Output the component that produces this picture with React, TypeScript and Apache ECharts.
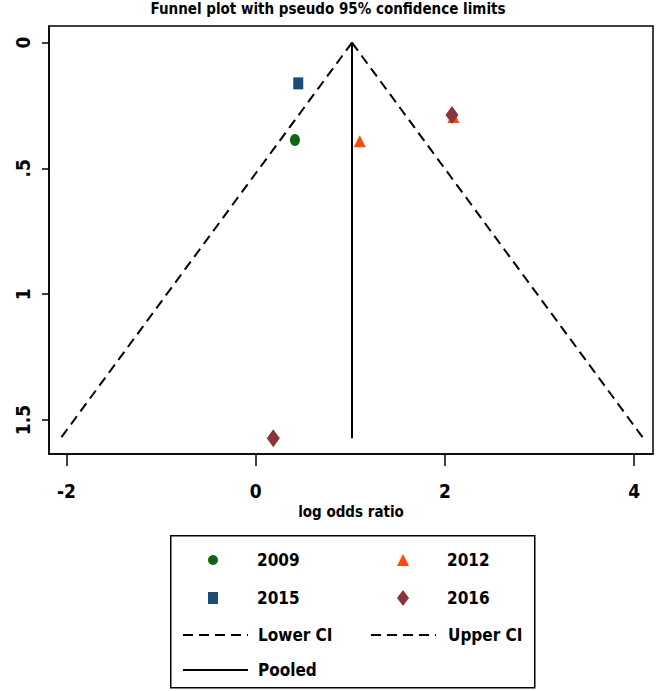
import React, { useEffect, useRef } from "react";
import * as echarts from "echarts";

// ---- data ----
const xTicks = [-2, 0, 2, 4];
const yTicks = [0, 0.5, 1, 1.5];
const s2009: number[][] = [[0.415, 0.387]];
const s2012: number[][] = [[1.10, 0.392], [2.09, 0.296]];
const s2015: number[][] = [[0.45, 0.162]];
const s2016: number[][] = [[2.075, 0.288], [0.186, 1.572]];
const lowerCI: number[][] = [[1.018, 0], [-2.061, 1.572]];
const upperCI: number[][] = [[1.018, 0], [4.097, 1.572]];
const pooled: number[][] = [[1.018, 0], [1.018, 1.572]];

const FONT = '"Liberation Sans Narrow", "DejaVu Sans Condensed", "Arial Narrow", sans-serif';

export default function App() {
  const ref = useRef<HTMLDivElement>(null);
  useEffect(() => {
    document.body.style.margin = "0";
    const chart = echarts.init(ref.current!, null, { renderer: "svg" });
    const dashed = { color: "#000", width: 2, type: [10, 6] as any };
    const noSym = { color: "rgba(0,0,0,0)", opacity: 0, borderWidth: 0 };
    // one legend block per entry: [name, iconLeft, top, iconW, iconH, textX, isLine]
    const legendSpec: [string, number, number, number, number, number, boolean][] = [
      ["2009", 203, 545, 10, 12, 252, false],
      ["2012", 392, 545, 12, 12, 442, false],
      ["2015", 203, 583, 10, 12, 252, false],
      ["2016", 392, 583, 12, 16, 442, false],
      ["Lower CI", 177, 620, 65, 12, 252, true],
      ["Upper CI", 365, 620, 65, 12, 442, true],
      ["Pooled", 177, 655, 65, 12, 252, true],
    ];
    const legends = legendSpec.map(([name, left, top, w, h, tx, isLine]) => ({
      orient: "vertical", left, top, itemWidth: w, itemHeight: h,
      data: [name], selectedMode: false,
      ...(isLine ? { itemStyle: noSym } : {}),
      textStyle: {
        fontFamily: FONT, fontSize: 17, fontWeight: "bold", color: "#000",
        lineHeight: 20, padding: [0, 0, 0, tx - left - w - 5],
      },
    }));
    chart.setOption({
      animation: false,
      backgroundColor: "#fff",
      textStyle: { fontFamily: FONT },
      title: {
        text: "Funnel plot with pseudo 95% confidence limits",
        left: "center",
        top: 1,
        padding: 0,
        textStyle: { fontFamily: FONT, fontSize: 15, fontWeight: "bold", color: "#000" },
      },
      grid: {
        left: 49, right: 3, top: 26, bottom: 237,
        show: true, borderColor: "#000", borderWidth: 1.5, backgroundColor: "#fff",
      },
      xAxis: {
        type: "value",
        min: -2.185, max: 4.2,
        splitLine: { show: false },
        axisLine: { show: true, onZero: false, lineStyle: { color: "#000", width: 1.5 } },
        axisTick: { show: true, length: 12, customValues: xTicks, lineStyle: { color: "#000", width: 1.5 } },
        axisLabel: {
          customValues: xTicks, margin: 27, color: "#000",
          fontFamily: FONT, fontSize: 19, fontWeight: "bold",
        },
        name: "log odds ratio",
        nameLocation: "middle",
        nameGap: 43,
        nameTextStyle: { fontFamily: FONT, fontSize: 15, fontWeight: "bold", color: "#000" },
      },
      yAxis: {
        type: "value",
        inverse: true,
        min: -0.066, max: 1.635,
        splitLine: { show: false },
        axisLine: { show: true, onZero: false, lineStyle: { color: "#000", width: 1.5 } },
        axisTick: { show: true, length: 7, customValues: yTicks, lineStyle: { color: "#000", width: 1.5 } },
        axisLabel: {
          customValues: yTicks, rotate: 90, margin: 17, color: "#000",
          fontFamily: FONT, fontSize: 19, fontWeight: "bold",
          formatter: (v: number) => (v === 0 ? "0" : String(v).replace(/^0\./, ".")),
        },
      },
      legend: legends,
      graphic: [
        {
          type: "rect", left: 170, top: 535, z: -1,
          shape: { width: 364, height: 152 },
          style: { fill: "#fff", stroke: "#000", lineWidth: 1.5 },
        },
      ],
      series: [
        { name: "Lower CI", type: "line", data: lowerCI, symbol: "none", lineStyle: dashed, itemStyle: { color: "#000" } },
        { name: "Upper CI", type: "line", data: upperCI, symbol: "none", lineStyle: dashed, itemStyle: { color: "#000" } },
        { name: "Pooled", type: "line", data: pooled, symbol: "none", lineStyle: { color: "#000", width: 2 }, itemStyle: { color: "#000" } },
        { name: "2009", type: "scatter", data: s2009, symbol: "circle", symbolSize: [10, 12], itemStyle: { color: "#0f6418", opacity: 1 } },
        { name: "2012", type: "scatter", data: s2012, symbol: "triangle", symbolSize: [12, 12], itemStyle: { color: "#fc4a0c", opacity: 1 } },
        { name: "2015", type: "scatter", data: s2015, symbol: "rect", symbolSize: [10, 12], itemStyle: { color: "#1c4b78", opacity: 1 } },
        { name: "2016", type: "scatter", data: s2016, symbol: "diamond", symbolSize: [13, 18], itemStyle: { color: "#8a353b", opacity: 1 } },
      ],
    });
    return () => chart.dispose();
  }, []);
  return <div ref={ref} style={{ width: 656, height: 691 }} />;
}
